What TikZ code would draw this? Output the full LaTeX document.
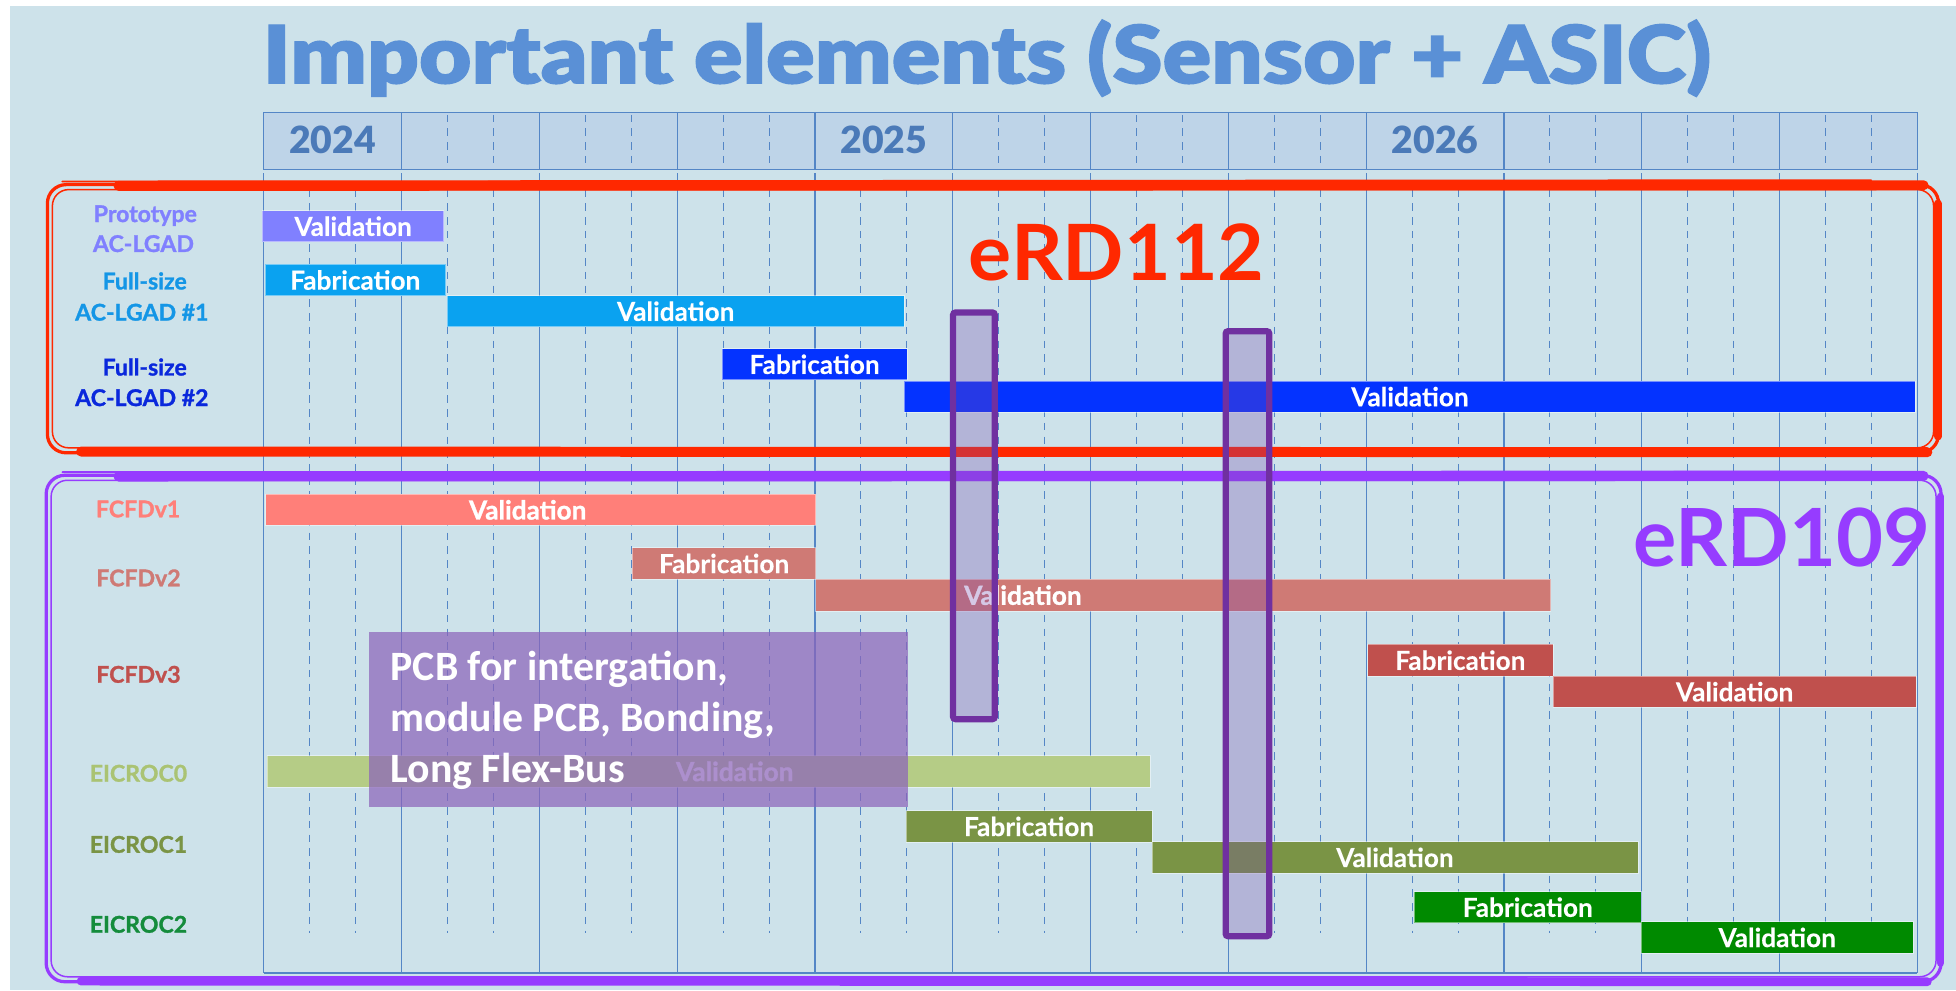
\documentclass[tikz,border=0pt]{standalone}
\usepackage{fontspec}
\setmainfont{Lato}
\newfontfamily\pcbfont{Carlito}
\newfontfamily\heavyfont{Lato Black}
\newfontfamily\titlefont{Lato Black}[FakeBold=1.5]
\newfontfamily\lblfont{Lato}[BoldFeatures={FakeBold=1.2}]
\definecolor{bgc}{RGB}{205,226,234}
\definecolor{hdrfill}{RGB}{190,212,232}
\definecolor{gridc}{RGB}{84,134,198}
\definecolor{titlec}{RGB}{90,144,214}
\definecolor{yearc}{RGB}{75,122,184}
\definecolor{protoc}{RGB}{128,128,255}
\definecolor{fsonec}{RGB}{10,162,240}
\definecolor{fsonel}{RGB}{20,150,230}
\definecolor{fstwoc}{RGB}{4,51,255}
\definecolor{fstwol}{RGB}{10,40,220}
\definecolor{fcfdone}{RGB}{255,127,121}
\definecolor{fcfdtwo}{RGB}{207,122,117}
\definecolor{fcfdthree}{RGB}{192,80,77}
\definecolor{eiczero}{RGB}{181,204,134}
\definecolor{eiczerol}{RGB}{170,195,115}
\definecolor{eicone}{RGB}{122,148,69}
\definecolor{eictwo}{RGB}{0,138,0}
\definecolor{eictwol}{RGB}{20,140,60}
\definecolor{brushred}{RGB}{255,40,0}
\definecolor{brushpurple}{RGB}{150,60,255}
\definecolor{stripeborder}{RGB}{112,48,160}
\definecolor{stripefill}{RGB}{119,74,174}
\definecolor{pcbc}{RGB}{140,100,186}
\newcommand\gbar[7]{% name, x1, x2, ytop, ybottom, colour, text
  \pgfmathsetmacro\gw{#3-#2}%
  \pgfmathsetmacro\gh{#5-#4}%
  \pgfmathsetmacro\gcx{(#2+#3)/2}%
  \pgfmathsetmacro\gcy{(#4+#5)/2}%
  \node[gbarstyle, fill=#6, minimum width=\gw pt, minimum height=\gh pt] (#1) at (\gcx,\gcy) {#7};}
\begin{document}
\begin{tikzpicture}[x=1pt,y=-1pt,
  bartext/.style={text=white, inner sep=0pt, font=\lblfont\fontsize{21}{24}\selectfont\bfseries},
  gbarstyle/.style={rectangle, inner sep=0pt, bartext, draw=white, draw opacity=0.45, line width=0.6pt},
  rowlabel/.style={anchor=base, inner sep=0pt, font=\lblfont\fontsize{18.5}{21}\selectfont\bfseries},
  yearlabel/.style={anchor=base, inner sep=0pt, text=yearc, font=\heavyfont\fontsize{30}{32}\selectfont},
  gridsolid/.style={draw=gridc, line width=1pt},
  griddash/.style={draw=gridc, line width=0.8pt, dash pattern=on 6pt off 5pt},
  stripe/.style={draw=stripeborder, line width=5pt, rounded corners=2pt},
  pcbtext/.style={anchor=base west, inner sep=0pt, text=white, font=\pcbfont\fontsize{33.5}{40}\selectfont\bfseries},
]
\useasboundingbox (0,0) rectangle (1568,794);
\fill[white] (0,0) rectangle (1568,794);
\fill[bgc] (8,5) rectangle (1568,794);

% title
\node[anchor=base west, inner sep=0pt, text=titlec] (title) at (210.4,66.8)
  {\resizebox{1161pt}{51pt}{\titlefont\fontsize{72}{80}\selectfont Important elements (Sensor + ASIC)}};

% header
\fill[hdrfill] (211.4,90.3) rectangle (1536.9,135.7);
\foreach \i in {1,2,3,5,6,7,9,10,11}{
  \foreach \k in {1,2}{
    \draw[griddash] ({211.4+110.47*(\i+\k/3)},92) -- ({211.4+110.47*(\i+\k/3)},134);
  }
}
\foreach \i in {1,...,11}{
  \draw[gridsolid] ({211.4+110.47*\i},90.3) -- ({211.4+110.47*\i},135.7);
}
\draw[gridsolid] (211.4,90.3) rectangle (1536.9,135.7);
\node[yearlabel] (y2024) at ({211.4+110.47*0.5},123) {2024};
\node[yearlabel] (y2025) at ({211.4+110.47*4.5},123) {2025};
\node[yearlabel] (y2026) at ({211.4+110.47*8.5},123) {2026};

% body grid
\foreach \i in {0,...,11}{
  \foreach \k in {1,2}{
    \draw[griddash] ({211.4+110.47*(\i+\k/3)},152) -- ({211.4+110.47*(\i+\k/3)},748);
  }
}
\foreach \i in {0,...,12}{
  \draw[gridsolid] ({211.4+110.47*\i},139) -- ({211.4+110.47*\i},780);
}
\draw[gridsolid] (211.4,780) -- (1536.9,780);

% bars: sensors
\gbar{protoval}{210.4}{355.7}{169}{193.7}{protoc}{Validation}
\gbar{fsonefab}{212.4}{357.2}{212}{237}{fsonec}{Fabrication}
\gbar{fsoneval}{358.3}{725}{237}{262}{fsonec}{Validation}
\gbar{fstwofab}{579}{727}{279.5}{304.5}{fstwoc}{Fabrication}
\gbar{fstwoval}{725}{1535.5}{305.4}{330.5}{fstwoc}{Validation}

% bars: FCFD
\gbar{fcfdoneval}{213}{654}{396.2}{421.2}{fcfdone}{}
\node[bartext] (fcfdonevalt) at (423,408.7) {Validation};
\gbar{fcfdtwofab}{507}{654}{439}{464.4}{fcfdtwo}{Fabrication}
\gbar{fcfdtwoval}{654}{1243}{464.4}{489.8}{fcfdtwo}{}
\node[bartext] (fcfdtwovalt) at (820,477.1) {Validation};
\gbar{fcfdthreefab}{1096.3}{1245}{516.5}{542}{fcfdthree}{Fabrication}
\gbar{fcfdthreeval}{1245}{1536}{542}{567}{fcfdthree}{Validation}

% bars: EICROC
\gbar{eiczeroval}{214}{922}{605.8}{631}{eiczero}{}
\node[bartext] (eiczerovalt) at (589,618.4) {Validation};
\gbar{eiconefab}{726.5}{923.4}{650}{675}{eicone}{Fabrication}
\gbar{eiconeval}{923.4}{1313}{674.7}{700}{eicone}{Validation}
\gbar{eictwofab}{1133.8}{1315.6}{714.8}{739.7}{eictwo}{Fabrication}
\gbar{eictwoval}{1315.6}{1533.7}{739}{764}{eictwo}{Validation}

% row labels
\node[rowlabel, text=protoc] (lproto1) at (116.5,178) {Prototype};
\node[rowlabel, text=protoc] (lproto2) at (115,202) {AC-LGAD};
\node[rowlabel, text=fsonel] (lfsone1) at (116,232) {Full-size};
\node[rowlabel, text=fsonel] (lfsone2) at (113.7,257) {AC-LGAD \#1};
\node[rowlabel, text=fstwol] (lfstwo1) at (116,301) {Full-size};
\node[rowlabel, text=fstwol] (lfstwo2) at (113.7,325.5) {AC-LGAD \#2};
\node[rowlabel, text=fcfdone] (lfcfdone) at (110.7,414.7) {FCFDv1};
\node[rowlabel, text=fcfdtwo] (lfcfdtwo) at (111,470) {FCFDv2};
\node[rowlabel, text=fcfdthree] (lfcfdthree) at (111,547.3) {FCFDv3};
\node[rowlabel, text=eiczerol] (leiczero) at (111,626.6) {EICROC0};
\node[rowlabel, text=eicone] (leicone) at (111,683.6) {EICROC1};
\node[rowlabel, text=eictwol] (leictwo) at (111,747.7) {EICROC2};

% brush boxes
\draw[brushred, line width=2.6pt, rounded corners=15pt] (38,148) rectangle (1554,363);
\draw[brushred, line width=1.2pt, rounded corners=13pt] (42,152) rectangle (1550,359);
\draw[brushred, line width=8pt, line cap=round] (95,149) -- (1542,148.5);
\draw[brushred, line width=1.5pt, line cap=round] (50,145.5) -- (1500,144.5);
\draw[brushred, line width=8pt, line cap=round] (65,362) -- (1545,362.5);
\draw[brushred, line width=6pt, line cap=round] (1553.5,163) -- (1553.5,350);

\draw[brushpurple, line width=2.6pt, rounded corners=15pt] (37,381) rectangle (1556,787);
\draw[brushpurple, line width=1.2pt, rounded corners=13pt] (41,385) rectangle (1552,783);
\draw[brushpurple, line width=8pt, line cap=round] (95,382) -- (1542,381.5);
\draw[brushpurple, line width=1.5pt, line cap=round] (50,378.5) -- (1500,378);
\draw[brushpurple, line width=7pt, line cap=round] (65,786.5) -- (1545,787);
\draw[brushpurple, line width=6pt, line cap=round] (1555.5,398) -- (1555.5,772);

% project labels
\node[anchor=base west, inner sep=0pt, text=brushred] (erd112) at (776.5,224.5)
  {\resizebox{237pt}{45.5pt}{\fontsize{60}{66}\selectfont\bfseries eRD112}};
\node[anchor=base west, inner sep=0pt, text=brushpurple] (erd109) at (1309,454.3)
  {\resizebox{238pt}{47pt}{\fontsize{60}{66}\selectfont\bfseries eRD109}};

% PCB note
\fill[pcbc, opacity=0.72] (295.6,507) rectangle (727.5,646.7);
\node[pcbtext] (pcbone) at (313,545.7) {PCB for intergation,};
\node[pcbtext] (pcbtwo) at (313,586.6) {module PCB, Bonding,};
\node[pcbtext] (pcbthree) at (313,627) {Long Flex-Bus};

% highlight stripes
\fill[stripefill, opacity=0.3, rounded corners=2pt] (764,250.5) rectangle (797.5,576.5);
\draw[stripe] (764,250.5) rectangle (797.5,576.5);
\fill[stripefill, opacity=0.3, rounded corners=2pt] (982.5,265.5) rectangle (1017.5,750.5);
\draw[stripe] (982.5,265.5) rectangle (1017.5,750.5);
\end{tikzpicture}
\end{document}
